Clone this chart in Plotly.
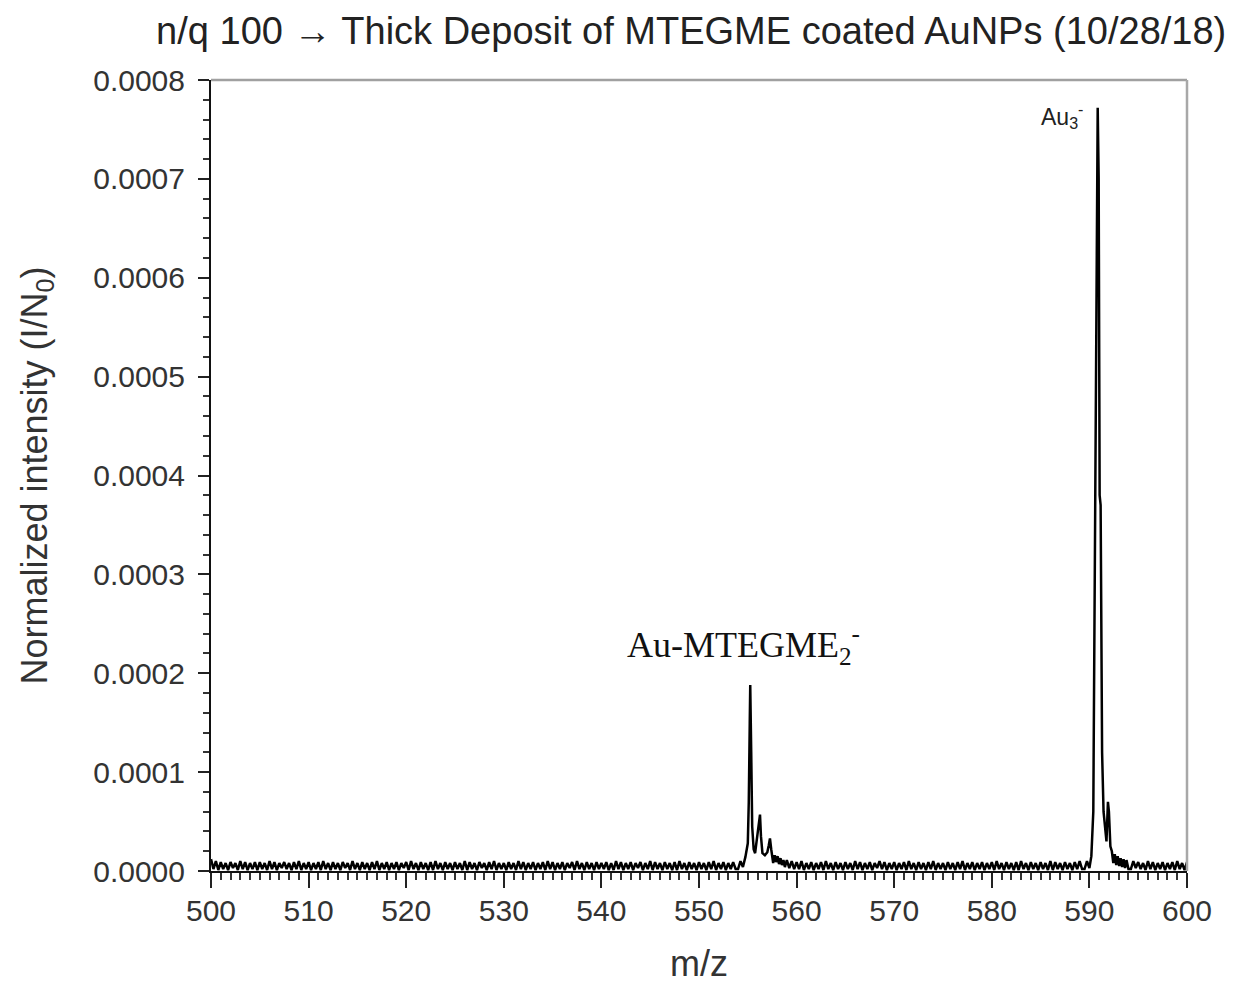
import numpy as np
import plotly.graph_objects as go

# Baseline noise (units of 1e-6), sampled every 0.25 m/z from 500 to 600
baseline_step = 0.25
baseline_e6 = [
    12, 2, 10, 1, 9, 2, 8, 1, 9, 3, 8, 1, 10, 2, 9, 1, 8, 2, 9, 1,
    9, 2, 8, 1, 10, 2, 9, 1, 8, 3, 9, 2, 8, 1, 9, 2, 10, 1, 8, 2,
    9, 1, 8, 2, 9, 1, 10, 2, 8, 1, 9, 2, 8, 1, 9, 3, 8, 1, 10, 2,
    8, 1, 9, 2, 8, 1, 9, 2, 10, 1, 8, 2, 9, 1, 8, 2, 9, 1, 8, 3,
    9, 1, 10, 2, 8, 1, 9, 2, 8, 1, 9, 1, 10, 2, 8, 1, 9, 2, 8, 1,
    9, 2, 8, 1, 10, 1, 9, 2, 8, 1, 9, 3, 8, 1, 9, 2, 10, 1, 8, 2,
    8, 1, 9, 2, 8, 1, 10, 2, 9, 1, 8, 2, 9, 1, 8, 2, 9, 1, 10, 2,
    9, 1, 8, 2, 9, 1, 8, 3, 9, 1, 10, 2, 8, 1, 9, 2, 8, 1, 9, 2,
    8, 2, 9, 1, 8, 1, 10, 2, 9, 1, 8, 2, 9, 1, 8, 3, 9, 1, 8, 2,
    10, 1, 9, 2, 8, 1, 9, 2, 8, 1, 9, 1, 10, 2, 8, 1, 9, 2, 8, 1,
    9, 2, 8, 1, 9, 2, 10, 1, 8, 2, 9, 1, 8, 2, 9, 2, 10, 2, 11, 3,
    12, 3, 12, 3, 12, 3, 12, 3, 12, 3, 12, 3, 12, 3, 12, 3, 11, 3, 10, 2,
    9, 2, 10, 1, 8, 2, 9, 1, 8, 2, 9, 1, 10, 2, 8, 1, 9, 2, 8, 1,
    9, 2, 8, 1, 10, 2, 9, 1, 8, 2, 9, 1, 8, 3, 10, 2, 9, 1, 8, 2,
    9, 1, 8, 2, 9, 1, 10, 2, 8, 1, 9, 2, 8, 1, 9, 2, 10, 1, 8, 2,
    8, 1, 9, 2, 8, 1, 9, 2, 10, 1, 8, 2, 9, 1, 8, 2, 9, 1, 8, 2,
    9, 1, 10, 2, 8, 1, 9, 2, 8, 1, 9, 1, 10, 2, 8, 1, 9, 2, 8, 1,
    9, 2, 8, 1, 10, 1, 9, 2, 8, 1, 9, 2, 8, 1, 9, 2, 10, 2, 11, 3,
    12, 3, 12, 3, 12, 3, 12, 3, 12, 3, 12, 3, 12, 3, 12, 3, 11, 2, 10, 3,
    9, 2, 8, 1, 10, 2, 9, 1, 8, 2, 9, 1, 8, 2, 9, 1, 10, 2, 8, 1,
    9,
]

# Au-MTEGME2- cluster region
peak1_mz = [554.0, 554.25, 554.5, 554.75, 555.0, 555.1, 555.2, 555.25, 555.35,
            555.45, 555.6, 555.75, 555.9, 556.1, 556.25, 556.35, 556.5, 556.75,
            557.0, 557.15, 557.27, 557.4, 557.6, 557.75, 557.9, 558.05, 558.2,
            558.35, 558.5, 558.65, 558.8]
peak1_e6 = [2, 10, 4, 14, 28, 70, 150, 188, 120,
            45, 22, 18, 30, 48, 57, 35, 18, 16,
            19, 26, 33, 22, 8, 16, 9, 15, 7,
            13, 6, 11, 4]

# Au3- region
peak2_mz = [589.5, 589.75, 590.0, 590.2, 590.4, 590.55, 590.7, 590.85, 590.95,
            591.05, 591.15, 591.3, 591.45, 591.6, 591.75, 591.9, 592.0, 592.15,
            592.3, 592.45, 592.6, 592.75, 592.9, 593.05, 593.2, 593.35, 593.5,
            593.65, 593.8, 594.0]
peak2_e6 = [2, 10, 3, 15, 60, 330, 500, 772, 700,
            380, 370, 120, 60, 40, 30, 70, 60, 25,
            20, 8, 17, 6, 15, 5, 13, 4, 12,
            3, 11, 2]

x_ticks = [500, 510, 520, 530, 540, 550, 560, 570, 580, 590, 600]
y_ticks = [0.0, 0.0001, 0.0002, 0.0003, 0.0004, 0.0005, 0.0006, 0.0007, 0.0008]

# assemble the spectrum: baseline outside the peak windows, detailed points inside
base_mz = 500 + baseline_step * np.arange(len(baseline_e6))
base_val = np.array(baseline_e6, dtype=float)
windows = [(peak1_mz[0], peak1_mz[-1]), (peak2_mz[0], peak2_mz[-1])]
keep = np.ones(len(base_mz), dtype=bool)
for lo, hi in windows:
    keep &= ~((base_mz >= lo) & (base_mz <= hi))
mz = np.concatenate([base_mz[keep], peak1_mz, peak2_mz])
val = np.concatenate([base_val[keep], peak1_e6, peak2_e6]) * 1e-6
order = np.argsort(mz)
mz, val = mz[order], val[order]

fig = go.Figure()
fig.add_trace(go.Scatter(
    x=mz, y=val, mode="lines",
    line=dict(color="black", width=2.5),
    showlegend=False, hoverinfo="skip",
))

sans = "Liberation Sans, Arial, sans-serif"
tick_font = dict(family=sans, size=30, color="#333333")
title_font = dict(family=sans, size=36, color="#333333")

fig.update_layout(
    width=1237, height=984,
    margin=dict(l=211, r=50, t=80, b=113),
    paper_bgcolor="white", plot_bgcolor="white",
    title=dict(
        text="n/q 100 \u2192 Thick Deposit of MTEGME coated AuNPs (10/28/18)",
        x=0.492, xref="paper", y=1 - 31 / 984, yref="container",
        xanchor="center", yanchor="middle",
        font=dict(family=sans, size=38, color="#222222"),
    ),
    xaxis=dict(
        range=[500, 600], tickvals=x_ticks, automargin=False,
        ticks="outside", ticklen=15, tickwidth=2, tickcolor="#222222",
        minor=dict(dtick=1, ticks="outside", ticklen=7, tickwidth=1.5, tickcolor="#333333"),
        showline=True, linecolor="#111111", linewidth=2,
        showgrid=False, zeroline=False,
        tickfont=tick_font, ticklabelstandoff=-3,
        title=dict(text="m/z", font=title_font, standoff=36),
    ),
    yaxis=dict(
        range=[0, 0.0008], tickvals=y_ticks, tickformat=".4f", automargin=False,
        ticks="outside", ticklen=11, tickwidth=2, tickcolor="#222222",
        minor=dict(dtick=0.00002, ticks="outside", ticklen=6, tickwidth=1.5, tickcolor="#333333"),
        showline=True, linecolor="#111111", linewidth=2,
        showgrid=False, zeroline=False,
        tickfont=tick_font, ticklabelstandoff=7,
        title=dict(text="Normalized intensity (I/N<sub>0</sub>)",
                   font=title_font, standoff=35),
    ),
)

# light grey frame on the top and right sides
fig.add_shape(type="line", xref="paper", yref="paper", x0=0, x1=1, y0=1, y1=1,
              line=dict(color="#a0a0a0", width=2.5))
fig.add_shape(type="line", xref="paper", yref="paper", x0=1, x1=1, y0=0, y1=1,
              line=dict(color="#a8a8a8", width=2.5))

fig.add_annotation(
    x=554.6, y=0.000229, xref="x", yref="y",
    text="Au-MTEGME<sub>2</sub><sup>-</sup>", showarrow=False,
    font=dict(family="Liberation Serif, Times New Roman, serif", size=36, color="#111111"),
)
fig.add_annotation(
    x=587.2, y=0.000764, xref="x", yref="y",
    text="Au<sub>3</sub><sup>-</sup>", showarrow=False,
    font=dict(family=sans, size=23, color="#222222"),
)

fig.write_html("out.html")
